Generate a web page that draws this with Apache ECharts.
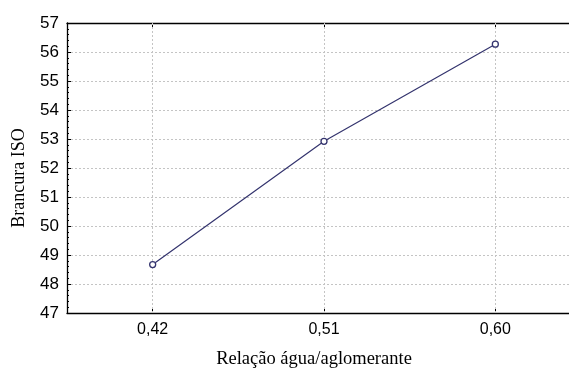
<!DOCTYPE html>
<html>
<head>
<meta charset="utf-8">
<script src="https://cdn.jsdelivr.net/npm/echarts@6/dist/echarts.min.js"></script>
<style>
  html, body { margin: 0; padding: 0; background: #ffffff; }
  #chart { width: 569px; height: 369px; }
</style>
</head>
<body>
<div id="chart"></div>
<script>
// Whiteness (ISO brightness) against the water/binder ratio
const categories = ['0,42', '0,51', '0,60'];
const brancura = [48.67, 52.92, 56.27];
const yTicks = { min: 47, max: 57, step: 1 };

const gridColor = '#c4c4c4';
const lineColor = '#34346e';

const chart = echarts.init(document.getElementById('chart'), null, { renderer: 'canvas' });

chart.setOption({
  backgroundColor: '#ffffff',
  animation: false,
  grid: { left: 67, top: 23, right: -12, height: 290, containLabel: false, outerBoundsMode: 'none' },
  xAxis: [
    {
      type: 'category',
      data: categories,
      boundaryGap: true,
      position: 'bottom',
      name: 'Relação água/aglomerante',
      nameLocation: 'middle',
      nameGap: 37,
      nameTextStyle: { fontFamily: 'Liberation Serif', fontSize: 18.5, color: '#000', padding: [0, 20, 0, 0] },
      axisLine: { show: true, lineStyle: { color: '#000', width: 1.3 } },
      axisTick: { show: true, inside: true, alignWithLabel: true, length: 4, lineStyle: { color: '#000' } },
      axisLabel: { fontFamily: 'Liberation Sans', fontSize: 16, color: '#000', margin: 9 },
      splitLine: { show: false }
    },
    {
      type: 'category',
      data: categories,
      boundaryGap: true,
      position: 'top',
      axisLine: { show: true, lineStyle: { color: '#000', width: 1.3 } },
      axisTick: { show: true, inside: true, alignWithLabel: true, length: 4, lineStyle: { color: '#000' } },
      axisLabel: { show: false },
      splitLine: { show: false }
    }
  ],
  yAxis: {
    type: 'value',
    min: yTicks.min,
    max: yTicks.max,
    interval: yTicks.step,
    name: 'Brancura ISO',
    nameLocation: 'middle',
    nameGap: 39,
    nameTextStyle: { fontFamily: 'Liberation Serif', fontSize: 18, color: '#000', padding: [0, 20, 0, 0] },
    axisLine: { show: true, lineStyle: { color: '#000', width: 1.3 } },
    axisTick: { show: true, inside: true, length: 4, lineStyle: { color: '#000' } },
    minorTick: { show: true, splitNumber: 5, length: 2, lineStyle: { color: '#000' } },
    axisLabel: { fontFamily: 'Liberation Sans', fontSize: 17, color: '#000', margin: 8 },
    splitLine: { show: true, lineStyle: { color: gridColor, type: [2, 2], width: 1 } }
  },
  series: [{
    type: 'line',
    data: brancura,
    symbol: 'circle',
    symbolSize: 6,
    itemStyle: { color: '#ffffff', borderColor: lineColor, borderWidth: 1.3 },
    lineStyle: { color: lineColor, width: 1.2 },
    z: 5,
    markLine: {
      silent: true,
      symbol: ['none', 'none'],
      label: { show: false },
      lineStyle: { color: gridColor, type: [2, 2], width: 1 },
      z: 1,
      data: categories.map(c => ({ xAxis: c }))
    }
  }]
});
</script>
</body>
</html>
